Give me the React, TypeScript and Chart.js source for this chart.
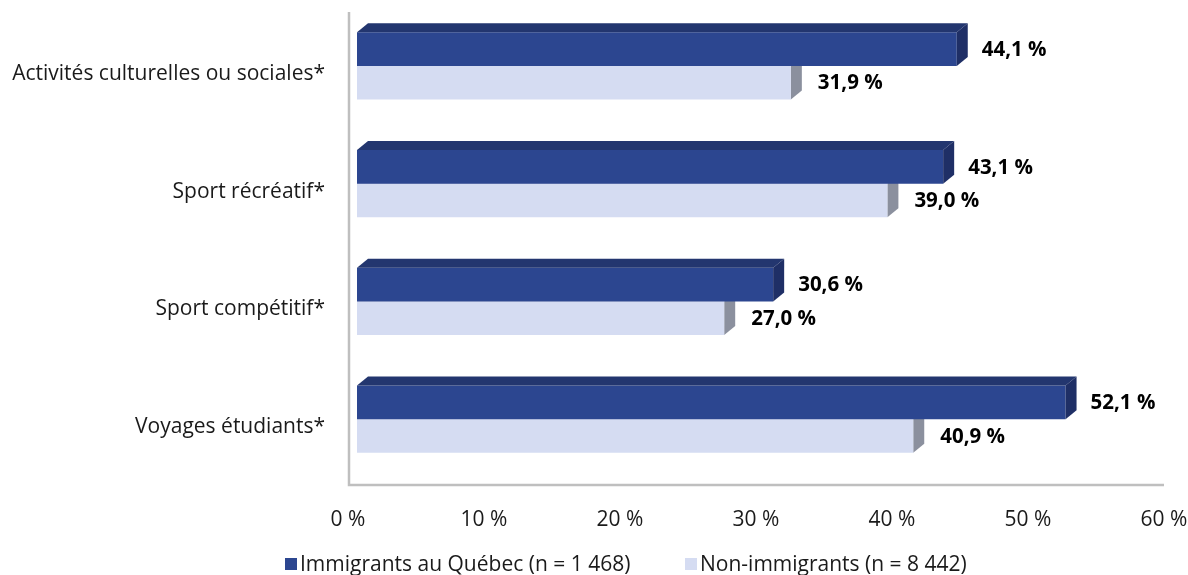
import React, { useEffect, useRef } from 'react';
import { Chart, registerables } from 'chart.js';

Chart.register(...registerables);

const categories = [
  'Activités culturelles ou sociales*',
  'Sport récréatif*',
  'Sport compétitif*',
  'Voyages étudiants*',
];
const immigrants = [44.1, 43.1, 30.6, 52.1];
const nonImmigrants = [31.9, 39.0, 27.0, 40.9];
const seriesNames = ['Immigrants au Québec (n = 1 468)', 'Non-immigrants (n = 8 442)'];
const xMin = 0;
const xMax = 60;
const xStep = 10;

const FONT = '"Open Sans", Lato, sans-serif';
const FRONT = ['#2C4690', '#D5DCF2'];
const TOP = ['#23366F', '#C3CAE0'];
const SIDE = ['#1F2F66', '#8B909E'];
const DX = 11;
const DY = 9;

const fmt = (v: number) => v.toFixed(1).replace('.', ',') + ' %';

function faces(ctx: CanvasRenderingContext2D, el: any, top: string, side: string) {
  const p = el.getProps(['x', 'y', 'base', 'height'], true);
  const l = Math.min(p.base, p.x);
  const r = Math.max(p.base, p.x);
  const t = p.y - p.height / 2;
  const b = p.y + p.height / 2;
  ctx.fillStyle = top;
  ctx.beginPath();
  ctx.moveTo(l, t);
  ctx.lineTo(l + DX, t - DY);
  ctx.lineTo(r + DX, t - DY);
  ctx.lineTo(r, t);
  ctx.closePath();
  ctx.fill();
  ctx.fillStyle = side;
  ctx.beginPath();
  ctx.moveTo(r, t);
  ctx.lineTo(r + DX, t - DY);
  ctx.lineTo(r + DX, b - DY);
  ctx.lineTo(r, b);
  ctx.closePath();
  ctx.fill();
}

const plugin3d = {
  id: 'plugin3d',
  beforeDatasetsDraw(chart: any) {
    const ctx = chart.ctx as CanvasRenderingContext2D;
    const xs = chart.scales.x;
    const ca = chart.chartArea;
    const wallX = xs.getPixelForValue(xMin) - 8;
    const floorY = ca.bottom + 7;
    const rightX = xs.getPixelForValue(xMax) - 9;
    ctx.save();
    ctx.strokeStyle = '#BFBFBF';
    ctx.lineWidth = 2.5;
    ctx.beginPath();
    ctx.moveTo(wallX, ca.top + 5);
    ctx.lineTo(wallX, floorY);
    ctx.lineTo(rightX, floorY);
    ctx.stroke();
    const meta1 = chart.getDatasetMeta(1);
    meta1.data.forEach((el: any) => faces(ctx, el, TOP[1], SIDE[1]));
    ctx.restore();
  },
  afterDatasetsDraw(chart: any) {
    const ctx = chart.ctx as CanvasRenderingContext2D;
    ctx.save();
    const meta0 = chart.getDatasetMeta(0);
    meta0.data.forEach((el: any) => faces(ctx, el, TOP[0], SIDE[0]));
    ctx.font = `bold 20.5px ${FONT}`;
    ctx.fillStyle = '#000000';
    ctx.textAlign = 'left';
    ctx.textBaseline = 'middle';
    [0, 1].forEach((di) => {
      const meta = chart.getDatasetMeta(di);
      const vals = chart.data.datasets[di].data as number[];
      meta.data.forEach((el: any, i: number) => {
        const p = el.getProps(['x', 'y'], true);
        ctx.fillText(fmt(vals[i]), p.x + (di === 0 ? 25 : 27), p.y + 1);
      });
    });
    // legend
    ctx.font = `21px ${FONT}`;
    const legendX = [285, 685];
    const ly = 564;
    seriesNames.forEach((name, i) => {
      ctx.fillStyle = FRONT[i];
      ctx.fillRect(legendX[i], ly - 6, 12, 12);
      ctx.fillStyle = '#1A1A1A';
      ctx.fillText(name, legendX[i] + 15, ly + 1);
    });
    ctx.restore();
  },
};

export default function App() {
  const ref = useRef<HTMLCanvasElement | null>(null);
  useEffect(() => {
    if (!ref.current) return;
    const chart = new Chart(ref.current, {
      type: 'bar',
      data: {
        labels: categories,
        datasets: [
          { label: seriesNames[0], data: immigrants, backgroundColor: FRONT[0], categoryPercentage: 0.57, barPercentage: 1.0 },
          { label: seriesNames[1], data: nonImmigrants, backgroundColor: FRONT[1], categoryPercentage: 0.57, barPercentage: 1.0 },
        ],
      },
      options: {
        indexAxis: 'y',
        responsive: false,
        animation: false,
        layout: { padding: { top: 7, right: 15, left: 0, bottom: 0 } },
        plugins: { legend: { display: false }, tooltip: { enabled: false } },
        scales: {
          x: {
            min: xMin,
            max: xMax,
            grid: { display: false, drawTicks: false },
            border: { display: false },
            ticks: {
              stepSize: xStep,
              labelOffset: -9,
              padding: 29,
              color: '#1A1A1A',
              font: { family: FONT, size: 21 },
              callback: (v: any) => `${v} %`,
            },
            afterFit: (s: any) => {
              s.height = 97;
              s.paddingLeft = 0;
              s.paddingRight = 0;
            },
          },
          y: {
            grid: { display: false, drawTicks: false },
            border: { display: false },
            ticks: {
              padding: 32,
              labelOffset: 8,
              color: '#1A1A1A',
              font: { family: FONT, size: 21 },
            },
            afterFit: (s: any) => {
              s.width = 357;
              s.paddingTop = 0;
              s.paddingBottom = 0;
            },
          },
        },
      },
      plugins: [plugin3d],
    });
    return () => chart.destroy();
  }, []);
  return (
    <div style={{ position: 'fixed', left: 0, top: 0, width: 1188, height: 575, background: '#fff' }}>
      <canvas ref={ref} width={1188} height={575} />
    </div>
  );
}
